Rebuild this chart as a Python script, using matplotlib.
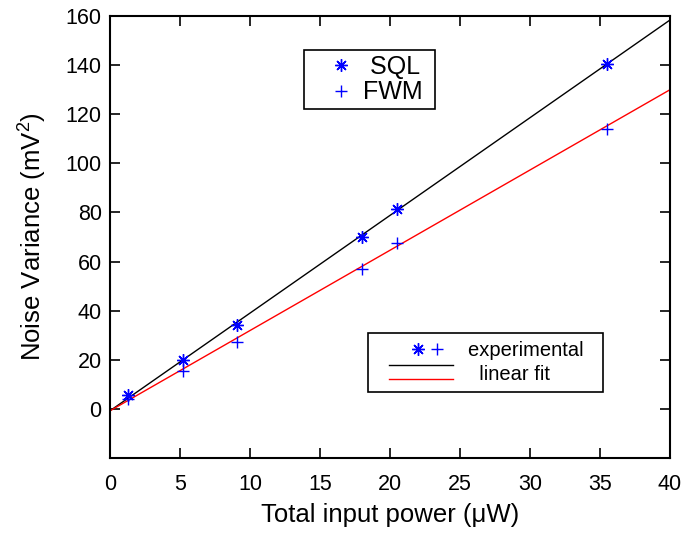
import matplotlib

matplotlib.use("Agg")

import matplotlib.pyplot as plt
from matplotlib.legend_handler import HandlerBase
from matplotlib.lines import Line2D

# Measured data (total input power in uW, noise variance in mV^2)
power = [1.3, 5.2, 9.1, 18.0, 20.5, 35.5]
sql_var = [5.5, 20.0, 34.2, 69.8, 81.5, 140.5]
fwm_var = [4.0, 15.5, 27.2, 56.8, 67.6, 114.0]

# Linear fits (slope, intercept)
sql_fit = (3.98, -0.8)
fwm_fit = (3.27, -0.8)
fit_x = [0.0, 40.0]

x_ticks = [0, 5, 10, 15, 20, 25, 30, 35, 40]
y_ticks = [0, 20, 40, 60, 80, 100, 120, 140, 160]

plt.rcParams["font.family"] = ["Liberation Sans", "DejaVu Sans"]
plt.rcParams["mathtext.fontset"] = "custom"
plt.rcParams["mathtext.rm"] = "Liberation Sans"
plt.rcParams["mathtext.it"] = "Liberation Sans"

STAR = (8, 2, 0)  # MATLAB-like asterisk
PX = 72 / 100     # pixels -> points at dpi 100


class PairMarkerHandler(HandlerBase):
    """'*' and '+' next to each other as one legend key."""

    def create_artists(self, legend, orig_handle, xdescent, ydescent,
                       width, height, fontsize, trans):
        y0 = height / 2 - ydescent
        a = Line2D([42 * PX - xdescent], [y0], marker=STAR, ms=9,
                   mew=1.0, color="blue", ls="none", transform=trans)
        b = Line2D([61 * PX - xdescent], [y0], marker="+", ms=8.5,
                   mew=1.0, color="blue", ls="none", transform=trans)
        return [a, b]


class PairLineHandler(HandlerBase):
    """Black line over red line as one legend key."""

    def create_artists(self, legend, orig_handle, xdescent, ydescent,
                       width, height, fontsize, trans):
        y0 = height / 2 - ydescent
        xs = [13 * PX - xdescent, 77 * PX - xdescent]
        top = Line2D(xs, [y0 + 8 * PX] * 2, color="black", lw=1.0, transform=trans)
        bot = Line2D(xs, [y0 - 6 * PX] * 2, color="red", lw=1.0, transform=trans)
        return [top, bot]


fig = plt.figure(figsize=(6.83, 5.35), dpi=100)
ax = fig.add_axes([0.161, 0.144, 0.820, 0.826])

ax.plot(fit_x, [sql_fit[0] * x + sql_fit[1] for x in fit_x], color="black", lw=1.0)
ax.plot(fit_x, [fwm_fit[0] * x + fwm_fit[1] for x in fit_x], color="red", lw=1.0)
h_sql, = ax.plot(power, sql_var, ls="none", marker=STAR, ms=9, mew=1.0, color="blue")
h_fwm, = ax.plot(power, fwm_var, ls="none", marker="+", ms=8.5, mew=1.0, color="blue")

ax.set_xlim(0, 40)
ax.set_ylim(-20, 160)
ax.set_xticks(x_ticks)
ax.set_yticks(y_ticks)
ax.tick_params(direction="in", length=7, width=1.2, labelsize=15.5,
               top=True, right=True)
ax.tick_params(axis="x", pad=11.5)
ax.tick_params(axis="y", pad=6)
for sp in ax.spines.values():
    sp.set_linewidth(1.5)

ax.set_xlabel("Total input power (\u03bcW)", fontsize=18.5, labelpad=6)
ax.set_ylabel("Noise Variance (mV$^2$)", fontsize=18.5, labelpad=12)

leg1 = ax.legend([h_sql, h_fwm], [" SQL ", "FWM "], loc="upper left",
                 bbox_to_anchor=(0.3464, 0.923), fontsize=18, frameon=True,
                 fancybox=False, edgecolor="black", framealpha=1,
                 handlelength=2.56, handletextpad=-0.4, borderpad=0.2,
                 labelspacing=0.05, borderaxespad=0)
leg1.get_frame().set_linewidth(1.2)
ax.add_artist(leg1)

key_exp = Line2D([], [])
key_fit = Line2D([], [])
leg2 = ax.legend([key_exp, key_fit], ["experimental  ", "  linear fit"],
                 handler_map={key_exp: PairMarkerHandler(),
                              key_fit: PairLineHandler()},
                 loc="upper left", bbox_to_anchor=(0.4607, 0.283), fontsize=14.5,
                 frameon=True, fancybox=False, edgecolor="black", framealpha=1,
                 handlelength=3.95, handletextpad=0.6, borderpad=0.4,
                 labelspacing=0.25, borderaxespad=0)
leg2.get_frame().set_linewidth(1.2)

fig.savefig("out.png", dpi=100)
